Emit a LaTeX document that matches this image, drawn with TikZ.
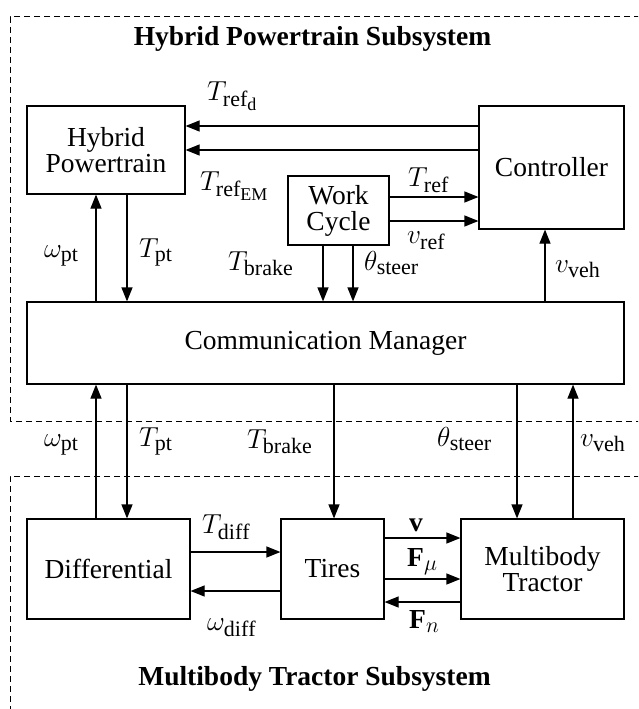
\documentclass[tikz,border=0pt]{standalone}
\usepackage{fix-cm}
\usepackage{fontspec}
\setmainfont{Liberation Serif}
\DeclareMathSizes{27.5}{27.5}{22}{18}
\usetikzlibrary{arrows.meta}

\begin{document}
\begin{tikzpicture}[x=1pt, y=-1pt,
    font=\fontsize{27.5}{29}\selectfont,
    block/.style={draw, line width=1.2pt, inner sep=0pt, align=center},
    sig/.style={-{Triangle[length=14pt, width=11pt]}, line width=1.2pt},
    lbl/.style={inner sep=0pt, anchor=base west},
    subsys/.style={line width=1pt, dash pattern=on 6pt off 4pt},
    title/.style={inner sep=0pt, anchor=base, font=\fontsize{27.5}{29}\selectfont\bfseries}]
    \useasboundingbox (0,0) rectangle (638,709);

    % subsystem frames
    \begin{scope}
        \clip (0,0) rectangle (638,709);
        \draw[subsys] (650,17) -- (10,17) -- (10,421) -- (650,421);
        \draw[subsys] (650,476) -- (10,476) -- (10,720);
    \end{scope}
    \node[title] (hpsys) at (312.5,46) {Hybrid Powertrain Subsystem};
    \node[title] (mtsys) at (314.5,685) {Multibody Tractor Subsystem};

    % blocks
    \node[block, minimum width=158, minimum height=88] at (106,150) (hp) {Hybrid\\[-3pt]Powertrain};
    \node[block, minimum width=145, minimum height=123] at (551.5,167.5) (ctrl) {Controller};
    \node[block, minimum width=101, minimum height=69] at (338.5,210.5) (wc) {Work\\[-3pt]Cycle};
    \node[block, minimum width=597, minimum height=82] at (325.5,343) (cm) {Communication Manager};
    \node[block, minimum width=163, minimum height=100] at (108.5,569) (diff) {Differential};
    \node[block, minimum width=103, minimum height=100] at (332.5,569) (tires) {Tires};
    \node[block, minimum width=163, minimum height=100] at (542.5,569) (mbt) {Multibody\\[-3pt]Tractor};

    % hybrid powertrain subsystem signals
    \draw[sig] (ctrl.west |- 0,126) -- (hp.east |- 0,126);
    \draw[sig] (ctrl.west |- 0,150) -- (hp.east |- 0,150);
    \draw[sig] (wc.east |- 0,197) -- (ctrl.west |- 0,197);
    \draw[sig] (wc.east |- 0,221) -- (ctrl.west |- 0,221);
    \draw[sig] (cm.north -| 96,0) -- (hp.south -| 96,0);
    \draw[sig] (hp.south -| 127,0) -- (cm.north -| 127,0);
    \draw[sig] (wc.south -| 323,0) -- (cm.north -| 323,0);
    \draw[sig] (wc.south -| 353,0) -- (cm.north -| 353,0);
    \draw[sig] (cm.north -| 545,0) -- (ctrl.south -| 545,0);

    \node[lbl] (trefd) at (207,100) {$T_{\mathrm{ref}_{\mathrm{d}}}$};
    \node[lbl] (trefem) at (200,190) {$T_{\mathrm{ref}_{\mathrm{EM}}}$};
    \node[lbl] (tref) at (408,186) {$T_{\mathrm{ref}}$};
    \node[lbl] (vref) at (407,243) {$v_{\mathrm{ref}}$};
    \node[lbl] (wpt1) at (44,257) {$\omega_{\mathrm{pt}}$};
    \node[lbl] (tpt1) at (139,257) {$T_{\mathrm{pt}}$};
    \node[lbl] (tbr1) at (228,270) {$T_{\mathrm{brake}}$};
    \node[lbl] (th1) at (364,270) {$\theta_{\mathrm{steer}}$};
    \node[lbl] (vveh1) at (555,272) {$v_{\mathrm{veh}}$};

    % links between the subsystems
    \draw[sig] (diff.north -| 96,0) -- (cm.south -| 96,0);
    \draw[sig] (cm.south -| 127,0) -- (diff.north -| 127,0);
    \draw[sig] (cm.south -| 334,0) -- (tires.north -| 334,0);
    \draw[sig] (cm.south -| 517,0) -- (mbt.north -| 517,0);
    \draw[sig] (mbt.north -| 573,0) -- (cm.south -| 573,0);

    \node[lbl] (wpt2) at (44,446) {$\omega_{\mathrm{pt}}$};
    \node[lbl] (tpt2) at (139,446) {$T_{\mathrm{pt}}$};
    \node[lbl] (tbr2) at (247,448) {$T_{\mathrm{brake}}$};
    \node[lbl] (th2) at (437,446) {$\theta_{\mathrm{steer}}$};
    \node[lbl] (vveh2) at (580,446) {$v_{\mathrm{veh}}$};

    % multibody tractor subsystem signals
    \draw[sig] (diff.east |- 0,552) -- (tires.west |- 0,552);
    \draw[sig] (tires.west |- 0,591) -- (diff.east |- 0,591);
    \draw[sig] (tires.east |- 0,538) -- (mbt.west |- 0,538);
    \draw[sig] (tires.east |- 0,579) -- (mbt.west |- 0,579);
    \draw[sig] (mbt.west |- 0,602) -- (tires.east |- 0,602);

    \node[lbl] (tdiff) at (202,533) {$T_{\mathrm{diff}}$};
    \node[lbl] (wdiff) at (207,630) {$\omega_{\mathrm{diff}}$};
    \node[lbl] (vel) at (409,531) {$\mathbf{v}$};
    \node[lbl] (fmu) at (407,566) {$\mathbf{F}_{\mu}$};
    \node[lbl] (fn) at (409,628) {$\mathbf{F}_{n}$};
\end{tikzpicture}
\end{document}
